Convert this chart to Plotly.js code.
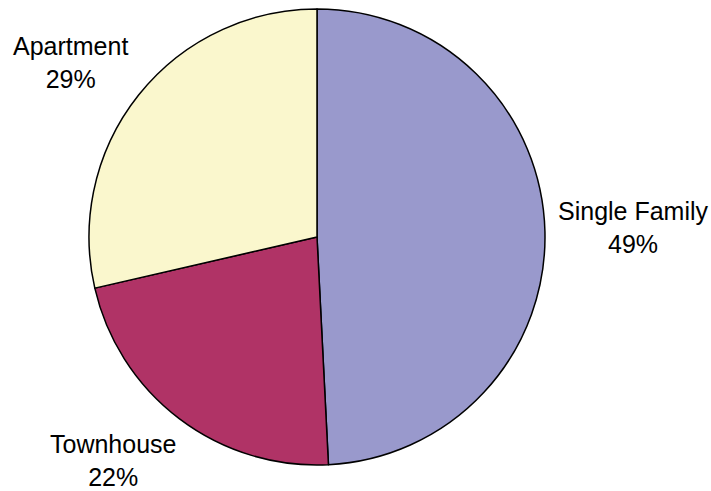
<!DOCTYPE html>
<html>
<head>
<meta charset="utf-8">
<script src="https://cdn.plot.ly/plotly-3.0.1.min.js"></script>
<style>html,body{margin:0;padding:0;background:#fff;}#chart{width:711px;height:491px;}</style>
</head>
<body>
<div id="chart"></div>
<script>
// Data
var categories = ["Single Family", "Townhouse", "Apartment"];
var shares = [49.2, 22.2, 28.6];
var sliceColors = ["#9999CC", "#B03366", "#FAF7CD"];

var W = 711, H = 491;
var cx = 317, cy = 237, r = 228;

var total = shares.reduce(function(a, b){ return a + b; }, 0);
var labelPos = [ [633, 227], [113, 460], [70, 62] ];

var annotations = categories.map(function(c, i){
  return {
    text: c + "<br>" + Math.round(shares[i] / total * 100) + "%",
    x: labelPos[i][0] / W, y: 1 - labelPos[i][1] / H,
    xref: "paper", yref: "paper",
    xanchor: "center", yanchor: "middle",
    showarrow: false, align: "center",
    font: {family: "Liberation Sans, Arial, sans-serif", size: 25, color: "#000"}
  };
});

var trace = {
  type: "pie",
  labels: categories,
  values: shares,
  sort: false,
  direction: "clockwise",
  rotation: 0,
  textinfo: "none",
  hoverinfo: "label+percent",
  marker: {colors: sliceColors, line: {color: "#000", width: 1.5}},
  domain: {x: [(cx - r) / W, (cx + r) / W], y: [(H - cy - r) / H, (H - cy + r) / H]},
  showlegend: false
};

Plotly.newPlot("chart", [trace], {
  width: W, height: H,
  margin: {l: 0, r: 0, t: 0, b: 0},
  paper_bgcolor: "#fff",
  showlegend: false,
  annotations: annotations
}, {displayModeBar: false, staticPlot: true});
</script>
</body>
</html>
